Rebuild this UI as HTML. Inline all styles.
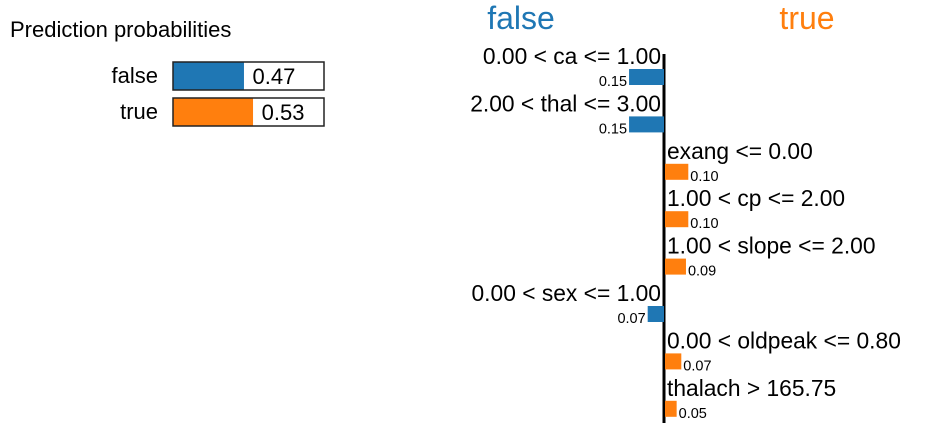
<!DOCTYPE html>
<html><head><meta charset="utf-8"><style>
html,body{margin:0;padding:0;background:#fff;width:933px;height:423px;overflow:hidden}
svg{display:block;font-family:"Liberation Sans","DejaVu Sans",sans-serif}
</style></head><body>
<svg id="c" width="933" height="423">
<text x="10" y="37" font-size="22" fill="#000">Prediction probabilities</text>
<text x="521" y="29" font-size="32" fill="#1f77b4" text-anchor="middle">false</text>
<text x="807" y="29" font-size="32" fill="#ff7f0e" text-anchor="middle">true</text>
</svg>
<script>
const classes = ["false", "true"];
const probs = [0.47, 0.53];
const features = ["0.00 < ca <= 1.00","2.00 < thal <= 3.00","exang <= 0.00","1.00 < cp <= 2.00","1.00 < slope <= 2.00","0.00 < sex <= 1.00","0.00 < oldpeak <= 0.80","thalach > 165.75"];
const weights = [-0.15,-0.15,0.10,0.10,0.09,-0.07,0.07,0.05];
const colors = ["#1f77b4", "#ff7f0e"];
const svg = document.getElementById('c');
const NS = "http://www.w3.org/2000/svg";
function mk(tag, attrs, text){const e=document.createElementNS(NS,tag);for(const k in attrs)e.setAttribute(k,attrs[k]);if(text!==undefined)e.textContent=text;svg.appendChild(e);return e;}
const bx=173, bw=151;
const pScale = p => p*bw;
classes.forEach((c,i)=>{
  const y=62+i*36;
  let t=mk('text',{x:158,y:y+21,'font-size':22,'text-anchor':'end'},c);
  
  
  let f=mk('rect',{x:bx,y:y,width:pScale(probs[i]),height:28,fill:colors[i]});
  
  
  let b=mk('rect',{x:bx,y:y,width:bw,height:28,fill:'none',stroke:'#222','stroke-width':1.5});
  
  
  let v=mk('text',{x:bx+pScale(probs[i])+30,y:y+22,'font-size':22,'text-anchor':'middle'},probs[i].toFixed(2));
  
  
});
const x0=664, k=233;
const xs = w => x0 + w*k;
const rowY = i => 69 + i*47.4;
let ax=mk('line',{x1:x0,y1:54,x2:x0,y2:423,stroke:'#000','stroke-width':3});


features.forEach((f,i)=>{
  const w=weights[i], y=rowY(i), neg=w<0;
  const x=neg?xs(w):x0+1, wd=Math.abs(xs(w)-x0);
  let r=mk('rect',{x:x,y:y,width:wd,height:16,fill:neg?colors[0]:colors[1]});
  
  
  let l=mk('text',{x:neg?x0-3:x0+3,y:y-5,'font-size':22.8,'text-anchor':neg?'end':'start'},f);
  
  
  let v=mk('text',{x:neg?x-2:x+wd+2,y:y+17,'font-size':14.5,'text-anchor':neg?'end':'start'},Math.abs(w).toFixed(2));
  
  
});
</script>
</body></html>
